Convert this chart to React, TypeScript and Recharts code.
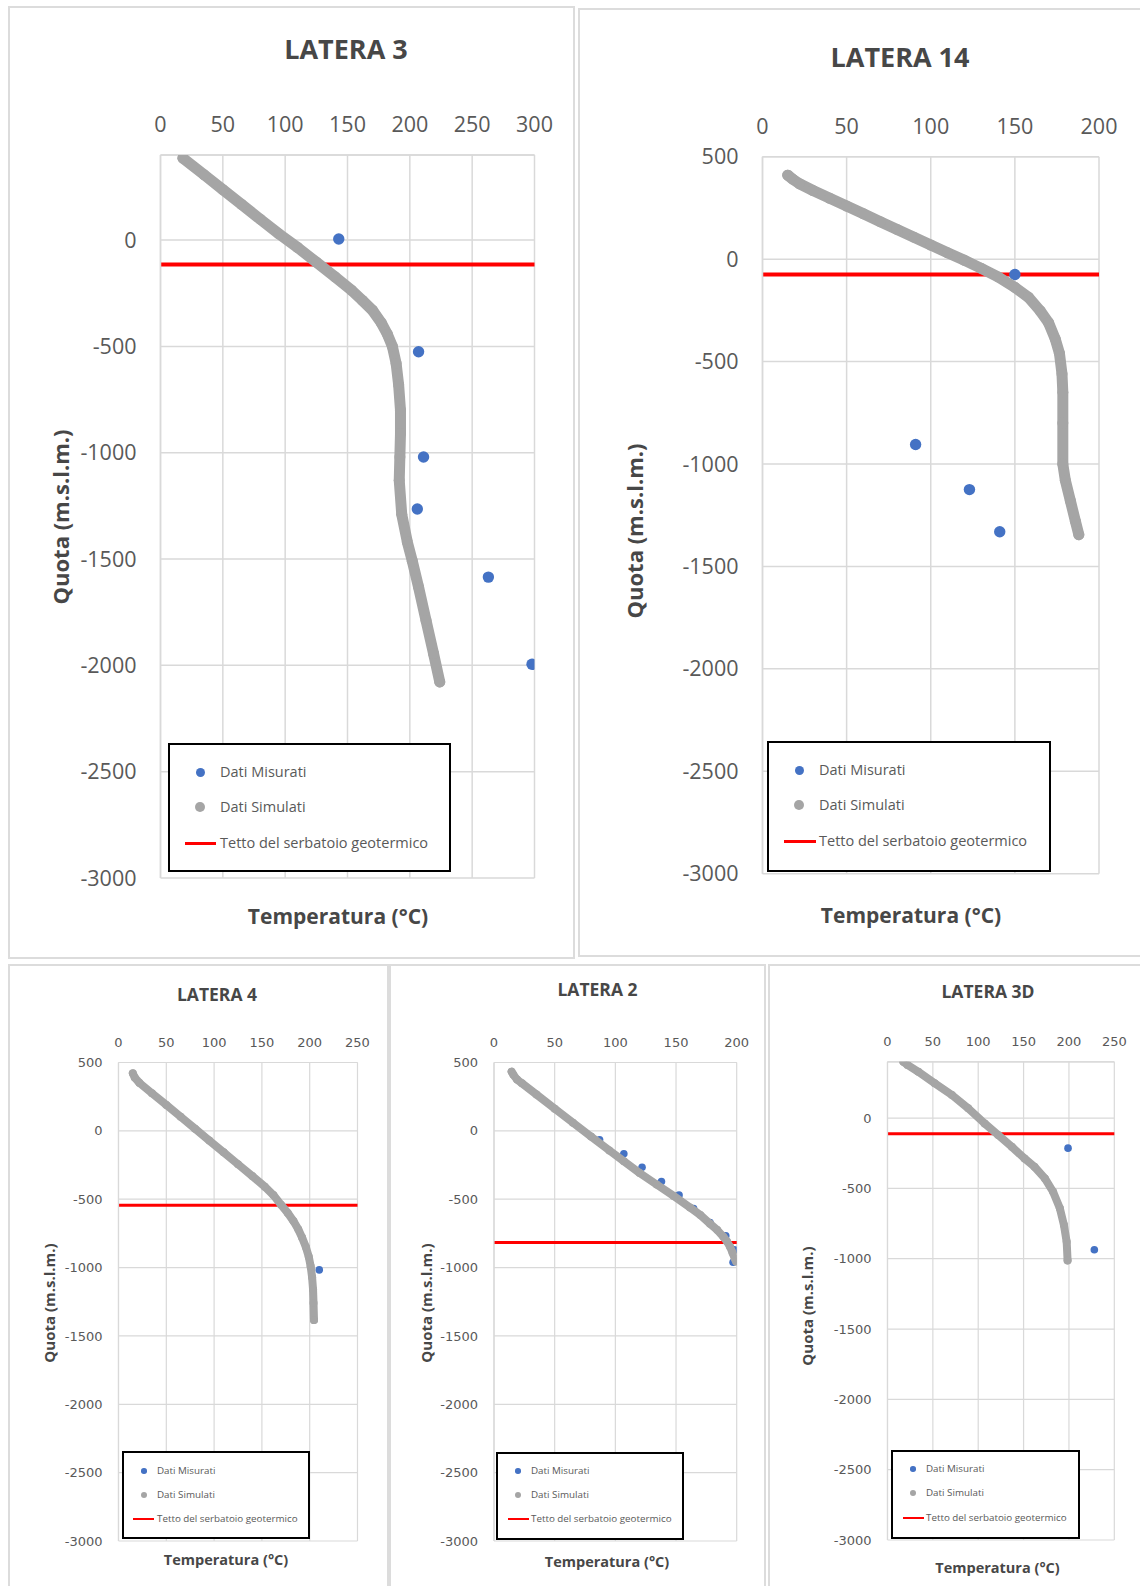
import React from 'react';
import { ScatterChart, Scatter, XAxis, YAxis, CartesianGrid, ReferenceLine, Legend } from 'recharts';

// ---- values ----
const SERIES_NAMES = ['Dati Misurati', 'Dati Simulati', 'Tetto del serbatoio geotermico'];

// LATERA 3
const L3_MEAS_T = [143, 207, 211, 206, 263, 298];
const L3_MEAS_Q = [5, -525, -1020, -1265, -1585, -1995];
const L3_SIM_T = [18, 35, 50, 65, 80, 95, 110, 125, 140, 153, 162, 170, 177, 182, 186, 189, 191, 192.5, 192.5, 192, 191.5, 193.5, 198, 202, 207, 213, 219, 224];
const L3_SIM_Q = [385, 307, 237, 168, 98, 29, -35, -104, -173, -235, -284, -330, -388, -443, -500, -580, -680, -800, -910, -1020, -1130, -1290, -1420, -1510, -1632, -1789, -1944, -2078];
const L3_TOP = -115;
const L3_X_TICKS = [0, 50, 100, 150, 200, 250, 300];
const L3_Y_TICKS = [-3000, -2500, -2000, -1500, -1000, -500, 0];
const L3_Y_MAX = 400;

// LATERA 14
const L14_MEAS_T = [150, 91, 123, 141];
const L14_MEAS_Q = [-75, -905, -1125, -1331];
const L14_SIM_T = [15, 18, 22, 30, 40, 50, 60, 70, 80, 90, 100, 110, 120, 130, 140, 150, 158, 165, 170, 174, 176.5, 178, 178.5, 178.5, 178.5, 180, 183, 186, 188];
const L14_SIM_Q = [410, 390, 368, 335, 297, 259, 221, 183, 145, 107, 69, 31, -6, -45, -87, -138, -186, -252, -310, -390, -460, -560, -650, -800, -1000, -1080, -1180, -1280, -1345];
const L14_TOP = -75;
const L14_X_TICKS = [0, 50, 100, 150, 200];
const L14_Y_TICKS = [-3000, -2500, -2000, -1500, -1000, -500, 0, 500];
const L14_Y_MAX = 500;

// LATERA 4
const L4_MEAS_T = [210];
const L4_MEAS_Q = [-1017];
const L4_SIM_T = [15, 17, 22, 35, 50, 65, 80, 95, 110, 125, 140, 153, 162, 170, 177, 183, 188, 192, 196, 199, 201, 202.5, 203.5, 204, 204.5];
const L4_SIM_Q = [421, 390, 350, 275, 190, 103, 16, -71, -157, -244, -331, -408, -470, -540, -600, -660, -720, -780, -850, -920, -990, -1070, -1160, -1260, -1384];
const L4_TOP = -545;
const L4_X_TICKS = [0, 50, 100, 150, 200, 250];
const L4_Y_TICKS = [-3000, -2500, -2000, -1500, -1000, -500, 0, 500];
const L4_Y_MAX = 500;

// LATERA 2
const L2_MEAS_T = [87, 107, 122, 138, 152.5, 164.5, 178, 191, 198, 197];
const L2_MEAS_Q = [-65, -168, -266, -371, -470, -568, -671, -767, -870, -961];
const L2_SIM_T = [14.5, 16, 19, 23, 35, 50, 65, 80, 95, 107, 120, 134, 148, 161.5, 170, 178, 184, 189, 192, 194.5, 196.5, 198.5, 199.5];
const L2_SIM_Q = [433, 410, 375, 348, 266, 162, 60, -42, -143, -222, -308, -392, -476, -560, -615, -679, -726, -774, -810, -848, -890, -935, -955];
const L2_TOP = -817;
const L2_X_TICKS = [0, 50, 100, 150, 200];
const L2_Y_TICKS = [-3000, -2500, -2000, -1500, -1000, -500, 0, 500];
const L2_Y_MAX = 500;

// LATERA 3D
const L3D_MEAS_T = [199, 228];
const L3D_MEAS_Q = [-214, -936];
const L3D_SIM_T = [17.5, 22, 34, 52, 71, 89, 107, 122, 137, 151, 162, 173.5, 182.5, 190, 194.5, 197.5, 198.5];
const L3D_SIM_Q = [400, 378, 329, 247, 164, 69, -38, -121, -204, -287, -346, -429, -524, -642, -761, -880, -1012];
const L3D_TOP = -112;
const L3D_X_TICKS = [0, 50, 100, 150, 200, 250];
const L3D_Y_TICKS = [-3000, -2500, -2000, -1500, -1000, -500, 0];
const L3D_Y_MAX = 400;

type Pt = { t: number; q: number };
const zip = (t: number[], q: number[]): Pt[] => t.map((v, i) => ({ t: v, q: q[i] }));

const FONT = '"Open Sans", sans-serif';
const GRID = '#d9d9d9';
const TEXT = '#595959';
const TITLE = '#474747';

const BIG = {
  tick: 21.5, tickFont: FONT, xGap: 23, yGap: 24, grid: 1.5, measR: 5.7, simW: 11, red: 4,
  title: 27, xTitle: 21, yTitle: 22, legend: 14.5, legR: 4.5, legLine: 3,
};
const SMALL = {
  tick: 13, tickFont: '"DejaVu Sans", sans-serif', xGap: 15.5, yGap: 16, grid: 1.2, measR: 3.8, simW: 8, red: 3,
  title: 17.5, xTitle: 14.5, yTitle: 15, legend: 9.8, legR: 2.8, legLine: 2,
};
type Style = typeof BIG;

interface LegendGeo { x: number; y: number; w: number; h: number; rows: number[]; mx: number; lx: [number, number]; tx: number }
interface PanelCfg {
  title: string;
  frame: { x: number; y: number; w: number; h: number };
  plot: { left: number; top: number; right: number; bottom: number };
  xTicks: number[];
  yTicks: number[];
  yMax: number;
  meas: Pt[];
  sim: Pt[];
  roof: number;
  titlePos: [number, number];
  xTitlePos: [number, number];
  yTitlePos: [number, number];
  legend: LegendGeo;
  st: Style;
}

const PANELS: PanelCfg[] = [
  {
    title: 'LATERA 3', frame: { x: 8, y: 6, w: 567, h: 953 }, plot: { left: 160.5, top: 155, right: 534.5, bottom: 878 },
    xTicks: L3_X_TICKS, yTicks: L3_Y_TICKS, yMax: L3_Y_MAX, meas: zip(L3_MEAS_T, L3_MEAS_Q), sim: zip(L3_SIM_T, L3_SIM_Q), roof: L3_TOP,
    titlePos: [346, 48], xTitlePos: [338, 916], yTitlePos: [60, 517],
    legend: { x: 168, y: 743, w: 283, h: 129, rows: [29, 64, 100], mx: 32, lx: [17, 48], tx: 52 }, st: BIG,
  },
  {
    title: 'LATERA 14', frame: { x: 578, y: 8, w: 564, h: 949 }, plot: { left: 762.5, top: 156.7, right: 1099, bottom: 873.7 },
    xTicks: L14_X_TICKS, yTicks: L14_Y_TICKS, yMax: L14_Y_MAX, meas: zip(L14_MEAS_T, L14_MEAS_Q), sim: zip(L14_SIM_T, L14_SIM_Q), roof: L14_TOP,
    titlePos: [900, 56], xTitlePos: [911, 915], yTitlePos: [634, 531],
    legend: { x: 767, y: 741, w: 284, h: 131, rows: [29, 64, 100], mx: 32, lx: [17, 49], tx: 52 }, st: BIG,
  },
  {
    title: 'LATERA 4', frame: { x: 8, y: 964, w: 381, h: 626 }, plot: { left: 118.5, top: 1062.5, right: 357.5, bottom: 1541 },
    xTicks: L4_X_TICKS, yTicks: L4_Y_TICKS, yMax: L4_Y_MAX, meas: zip(L4_MEAS_T, L4_MEAS_Q), sim: zip(L4_SIM_T, L4_SIM_Q), roof: L4_TOP,
    titlePos: [217, 995], xTitlePos: [226, 1560], yTitlePos: [48.5, 1303],
    legend: { x: 122, y: 1451, w: 188, h: 88, rows: [20, 44, 68], mx: 22, lx: [11, 32], tx: 35 }, st: SMALL,
  },
  {
    title: 'LATERA 2', frame: { x: 389, y: 964, w: 377, h: 626 }, plot: { left: 494, top: 1062.5, right: 736.7, bottom: 1541 },
    xTicks: L2_X_TICKS, yTicks: L2_Y_TICKS, yMax: L2_Y_MAX, meas: zip(L2_MEAS_T, L2_MEAS_Q), sim: zip(L2_SIM_T, L2_SIM_Q), roof: L2_TOP,
    titlePos: [597.5, 990], xTitlePos: [607, 1562], yTitlePos: [425.5, 1303],
    legend: { x: 496, y: 1452, w: 188, h: 88, rows: [19, 43, 67], mx: 22, lx: [12, 33], tx: 35 }, st: SMALL,
  },
  {
    title: 'LATERA 3D', frame: { x: 768, y: 964, w: 374, h: 626 }, plot: { left: 887.5, top: 1061.8, right: 1114.3, bottom: 1540 },
    xTicks: L3D_X_TICKS, yTicks: L3D_Y_TICKS, yMax: L3D_Y_MAX, meas: zip(L3D_MEAS_T, L3D_MEAS_Q), sim: zip(L3D_SIM_T, L3D_SIM_Q), roof: L3D_TOP,
    titlePos: [988, 992], xTitlePos: [997.5, 1567.5], yTitlePos: [806.5, 1306],
    legend: { x: 891, y: 1450, w: 189, h: 89, rows: [19, 43, 68], mx: 22, lx: [12, 33], tx: 35 }, st: SMALL,
  },
];

const AX_H = 40;
const AX_W = 60;

const textAt = (x: number, y: number, size: number, rotate = false): React.CSSProperties => ({
  position: 'absolute',
  left: x,
  top: y,
  transform: `translate(-50%, -50%)${rotate ? ' rotate(-90deg)' : ''}`,
  fontFamily: FONT,
  fontSize: size,
  fontWeight: 700,
  lineHeight: 1,
  color: TITLE,
  whiteSpace: 'nowrap',
});

function LegendBox({ c }: { c: PanelCfg }) {
  const L = c.legend;
  const st = c.st;
  const row = (i: number, marker: React.ReactNode) => (
    <div key={i} style={{ position: 'absolute', left: -2, top: L.rows[i] - 2 - 10, height: 20, width: L.w }}>
      {marker}
      <span style={{ position: 'absolute', left: L.tx, top: 0, lineHeight: '20px', fontSize: st.legend, fontFamily: FONT, color: TEXT, whiteSpace: 'nowrap' }}>
        {SERIES_NAMES[i]}
      </span>
    </div>
  );
  const dot = (color: string, r: number) => (
    <div style={{ position: 'absolute', left: L.mx - r, top: 10 - r, width: r * 2, height: r * 2, borderRadius: '50%', background: color }} />
  );
  return (
    <div style={{ width: L.w, height: L.h, boxSizing: 'border-box', border: '2px solid #000', background: '#fff', position: 'relative' }}>
      {row(0, dot('#4472C4', st.legR))}
      {row(1, dot('#A5A5A5', st.legR * 1.1))}
      {row(2, <div style={{ position: 'absolute', left: L.lx[0], top: 10 - st.legLine / 2, width: L.lx[1] - L.lx[0], height: st.legLine, background: '#FF0000' }} />)}
    </div>
  );
}

function Panel({ c }: { c: PanelCfg }) {
  const { frame, plot, st } = c;
  const margin = {
    top: plot.top - frame.y - AX_H,
    left: plot.left - frame.x - AX_W,
    right: frame.x + frame.w - plot.right,
    bottom: frame.y + frame.h - plot.bottom,
  };
  const xMax = c.xTicks[c.xTicks.length - 1];
  const tickStyle = { fill: TEXT, fontSize: st.tick, fontFamily: st.tickFont };
  const axisLine = { stroke: GRID, strokeWidth: st.grid };

  return (
    <>
      <div style={{ position: 'absolute', left: frame.x, top: frame.y, width: frame.w, height: frame.h, boxSizing: 'border-box', border: '2px solid #dcdcdc' }} />
      <div style={{ position: 'absolute', left: frame.x, top: frame.y }}>
        <ScatterChart width={frame.w} height={frame.h} margin={margin}>
          <CartesianGrid stroke={GRID} strokeWidth={st.grid} />
          <XAxis
            type="number"
            dataKey="t"
            orientation="top"
            domain={[0, xMax]}
            ticks={c.xTicks}
            interval={0}
            height={AX_H}
            tickSize={0}
            tickMargin={st.xGap}
            tickLine={false}
            axisLine={axisLine}
            tick={tickStyle}
            allowDataOverflow
          />
          <YAxis
            type="number"
            dataKey="q"
            domain={[-3000, c.yMax]}
            ticks={c.yTicks}
            interval={0}
            width={AX_W}
            tickSize={0}
            tickMargin={st.yGap}
            tickLine={false}
            axisLine={axisLine}
            tick={tickStyle}
            allowDataOverflow
          />
          <ReferenceLine y={c.roof} stroke="#FF0000" strokeWidth={st.red} />
          <Scatter
            name={SERIES_NAMES[0]}
            data={c.meas}
            fill="#4472C4"
            isAnimationActive={false}
            shape={(p: any) => <circle cx={p.cx} cy={p.cy} r={st.measR} fill="#4472C4" />}
          />
          <Scatter
            name={SERIES_NAMES[1]}
            data={c.sim}
            fill="#A5A5A5"
            isAnimationActive={false}
            line={{ stroke: '#A5A5A5', strokeWidth: st.simW, strokeLinejoin: 'round', strokeLinecap: 'round' }}
            shape={(p: any) => <circle cx={p.cx} cy={p.cy} r={st.simW / 2} fill="#A5A5A5" />}
          />
          <Legend
            layout="vertical"
            align="center"
            verticalAlign="middle"
            wrapperStyle={{ left: c.legend.x - frame.x, top: c.legend.y - frame.y, width: c.legend.w, height: c.legend.h }}
            content={() => <LegendBox c={c} />}
          />
        </ScatterChart>
      </div>
      <div style={textAt(c.titlePos[0], c.titlePos[1], st.title)}>{c.title}</div>
      <div style={textAt(c.xTitlePos[0], c.xTitlePos[1], st.xTitle)}>Temperatura (°C)</div>
      <div style={textAt(c.yTitlePos[0], c.yTitlePos[1], st.yTitle, true)}>Quota (m.s.l.m.)</div>
    </>
  );
}

export default function App() {
  return (
    <div style={{ position: 'absolute', left: 0, top: 0, width: 1140, height: 1586, overflow: 'hidden', background: '#fff', fontFamily: FONT }}>
      {PANELS.map((c) => (
        <Panel key={c.title} c={c} />
      ))}
    </div>
  );
}
